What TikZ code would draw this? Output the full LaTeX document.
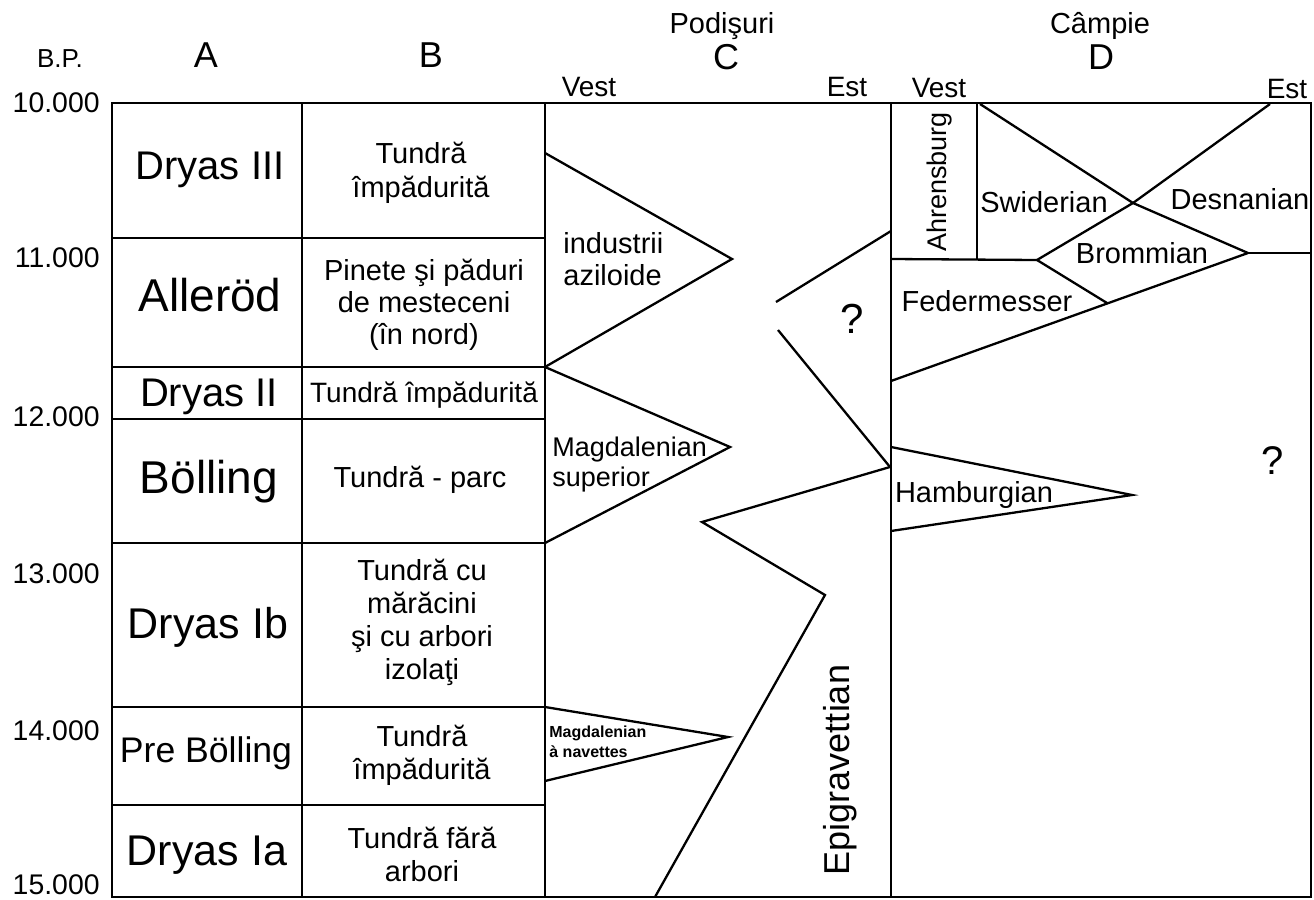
\documentclass[tikz,border=0pt]{standalone}
\usepackage{fontspec}
\setmainfont{Liberation Sans}
\newcommand{\fsz}[2]{\fontsize{#1pt}{#2pt}\selectfont}
\begin{document}
\begin{tikzpicture}[x=0.5pt,y=-0.5pt,
  rule/.style={line width=1.15pt, line join=miter},
  % single-line label: centred on the middle of its capitals
  lab/.style={inner sep=0pt, font={\fsz{#1}{#1}}, text height={0.72*#1 pt}, text depth=0pt},
  lab/.default=14.5,
  multi/.style={inner sep=0pt, align=center},
  multil/.style={inner sep=0pt, align=left, anchor=west},
  year/.style={lab=14.2, anchor=east},
  veg/.style={multi, font={\fsz{14.5}{16.5}}}
]
\useasboundingbox (0,0) rectangle (1314,900);
\fill[white] (0,0) rectangle (1314,900);

% ---------- frame and columns ----------
\coordinate (F-tl) at (112,103);
\coordinate (F-tr) at (1311,103);
\coordinate (F-br) at (1311,897);
\coordinate (F-bl) at (112,897);
\draw[rule] (F-tl) -- (F-tr) -- (F-br) -- (F-bl) -- cycle;
\foreach \x/\n in {302/AB,545/BC,891/CD}{
  \coordinate (\n-t) at (\x,103);
  \coordinate (\n-b) at (\x,897);
  \draw[rule] (\n-t) -- (\n-b);
}
% period boundaries in columns A and B
\foreach \y [count=\i] in {238,367,419,543,707,805}{
  \coordinate (row\i-w) at (112,\y);
  \coordinate (row\i-e) at (545,\y);
  \draw[rule] (row\i-w) -- (row\i-e);
}

% ---------- headings ----------
\node[lab=13] (bp) at (60,58) {B.P.};
\node[lab=18] (hA) at (206,55) {A};
\node[lab=18] (hB) at (431,55) {B};
\node[lab=14.5] (podis) at (722,23) {Podişuri};
\node[lab=18] (hC) at (726,57) {C};
\node[lab=14.5] (campie) at (1100,23) {Câmpie};
\node[lab=18] (hD) at (1101,57) {D};
\node[lab=14] (cW) at (589,86) {Vest};
\node[lab=14] (cE) at (847,86) {Est};
\node[lab=14] (dW) at (939,87) {Vest};
\node[lab=14] (dE) at (1287,88) {Est};

% ---------- years B.P. ----------
\node[year] (y10) at (100,102) {10.000};
\node[year] (y11) at (100,257) {11.000};
\node[year] (y12) at (100,416) {12.000};
\node[year] (y13) at (100,573) {13.000};
\node[year] (y14) at (100,730) {14.000};
\node[year] (y15) at (100,884) {15.000};

% ---------- column A: climatic periods ----------
\node[lab=20] (pDIII) at (210,165) {Dryas III};
\node[lab=23] (pAll) at (210,295) {Alleröd};
\node[lab=20] (pDII) at (209,392) {Dryas II};
\node[lab=23] (pBol) at (209,477) {Bölling};
\node[lab=21.5] (pDIb) at (208,623) {Dryas Ib};
\node[lab=17.8] (pPre) at (206,750) {Pre Bölling};
\node[lab=21.5] (pDIa) at (207,850) {Dryas Ia};

% ---------- column B: vegetation ----------
\node[veg, font={\fsz{14.5}{17}}] (vDIII) at (421,173) {Tundră\\împădurită};
\node[veg, font={\fsz{14.5}{16}}] (vAll) at (424,305) {Pinete şi păduri\\de mesteceni\\(în nord)};
\node[lab=14] (vDII) at (424,392) {Tundră împădurită};
\node[lab=14.5] (vBol) at (420,477) {Tundră - parc};
\node[veg] (vDIb) at (422,622) {Tundră cu\\mărăcini\\şi cu arbori\\izolaţi};
\node[veg] (vPre) at (422,755) {Tundră\\împădurită};
\node[veg] (vDIa) at (422,854) {Tundră fără\\arbori};

% ---------- column C: plateaus ----------
\coordinate (az-a) at (545,153);
\coordinate (az-t) at (732,259);
\coordinate (az-b) at (545,367);
\draw[rule] (az-a) -- (az-t) -- (az-b);
\coordinate (ms-t) at (730,447);
\coordinate (ms-b) at (545,543);
\draw[rule] (az-b) -- (ms-t) -- (ms-b);
\coordinate (mn-a) at (545,707);
\coordinate (mn-t) at (728,737);
\coordinate (mn-b) at (545,781);
\draw[rule] (mn-a) -- (mn-t) -- (mn-b);
\coordinate (q-a) at (891,231);
\coordinate (q-t1) at (776,302);
\coordinate (q-t2) at (778,330);
\coordinate (q-b) at (890,467);
\draw[rule] (q-a) -- (q-t1);
\draw[rule] (q-t2) -- (q-b);
\coordinate (ep-1) at (702,522);
\coordinate (ep-2) at (825,595);
\coordinate (ep-3) at (655,897);
\draw[rule] (q-b) -- (ep-1) -- (ep-2) -- (ep-3);

\node[multil, font={\fsz{14.5}{16}}] (tAz) at (563,259) {industrii\\aziloide};
\node[multil, font={\fsz{13.5}{15}}] (tMs) at (552,465) {Magdalenian\\superior};
\node[multil, font={\bfseries\fsz{8}{10}}] (tMn) at (549,742) {Magdalenian\\à navettes};
\node[lab=21] (qC) at (852,318) {?};
\node[lab=18, rotate=90] (tEp) at (837,770) {Epigravettian};

% ---------- column D: plain ----------
\coordinate (ah-tr) at (977,103);
\coordinate (ah-br) at (977,259);
\coordinate (ah-bl) at (891,259);
\draw[rule] (ah-tr) -- (ah-br);
\coordinate (br-l) at (1037,260);
\draw[rule] (ah-bl) -- (br-l);
\coordinate (sw-a) at (980,104);
\coordinate (xc) at (1133,203);
\coordinate (br-r) at (1248,253);
\draw[rule] (sw-a) -- (xc) -- (br-r);
\coordinate (ds-a) at (1270,104);
\draw[rule] (ds-a) -- (xc) -- (br-l);
\coordinate (br-bt) at (1107,303);
\draw[rule] (br-l) -- (br-bt);
\coordinate (fm-a) at (891,381);
\draw[rule] (fm-a) -- (br-r);
\coordinate (br-e) at (1311,253);
\draw[rule] (br-r) -- (br-e);
\coordinate (hb-a) at (891,447);
\coordinate (hb-t) at (1132,495);
\coordinate (hb-b) at (891,531);
\draw[rule] (hb-a) -- (hb-t) -- (hb-b);

\node[lab=13.5, rotate=90] (tAh) at (937,182) {Ahrensburg};
\node[lab] (tSw) at (1044,202) {Swiderian};
\node[lab] (tDe) at (1240,199) {Desnanian};
\node[lab] (tBr) at (1142,253) {Brommian};
\node[lab] (tFe) at (987,301) {Federmesser};
\node[lab] (tHa) at (974,492) {Hamburgian};
\node[lab=20] (qD) at (1273,460) {?};
\end{tikzpicture}
\end{document}
